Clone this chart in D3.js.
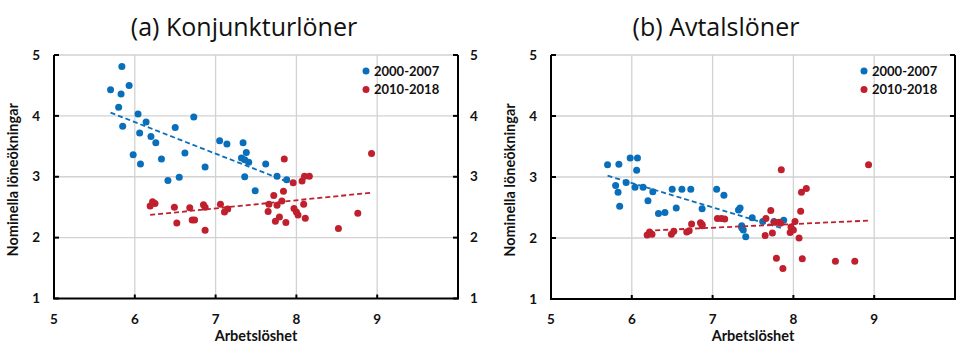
<!DOCTYPE html>
<html>
<head>
<meta charset="utf-8">
<script src="https://cdn.jsdelivr.net/npm/d3@7"></script>
<style>
	body { margin: 0; background: #fff; }
	svg { display: block; font-family: Lato, 'Open Sans', sans-serif; }
	.grid line { stroke: #d2d2d2; stroke-width: 1.3px; }
	.tick-label { font-weight: bold; font-size: 13.5px; fill: #111; }
	.axis-title { font-weight: bold; font-size: 14.5px; fill: #111; }
	.legend text { font-weight: bold; font-size: 13px; fill: #111; }
	.title { font-family: 'Open Sans', sans-serif; font-size: 25px; fill: #111; }
</style>
</head>
<body>
<svg width="968" height="346"></svg>
<script>

// Arbetslöshet (x), shared by both panels
var unemp0007 = [5.70, 5.80, 5.83, 5.84, 5.85, 5.93, 5.98, 6.04, 6.06, 6.07, 6.14, 6.20, 6.26, 6.33, 6.41, 6.50,
	6.55, 6.62, 6.73, 6.87, 7.05, 7.14, 7.32, 7.34, 7.36, 7.36, 7.38, 7.41, 7.49, 7.62, 7.76, 7.88];
var unemp1018 = [6.19, 6.22, 6.25, 6.49, 6.52, 6.68, 6.71, 6.74, 6.85, 6.87, 6.87, 7.06, 7.11, 7.15, 7.65, 7.66,
	7.72, 7.74, 7.76, 7.79, 7.82, 7.84, 7.85, 7.87, 7.96, 7.97, 8.00, 8.02, 8.07, 8.09, 8.10, 8.11, 8.16, 8.52, 8.76, 8.93];

// (a) Konjunkturlöner
var konj0007 = [4.43, 4.14, 4.36, 4.81, 3.83, 4.50, 3.36, 4.03, 3.72, 3.21, 3.90, 3.66, 3.56, 3.29, 2.94, 3.81,
	2.99, 3.39, 3.98, 3.16, 3.59, 3.54, 3.31, 3.56, 3.28, 3.00, 3.40, 3.24, 2.77, 3.21, 3.01, 2.95];
var konj1018 = [2.52, 2.59, 2.56, 2.50, 2.24, 2.49, 2.29, 2.29, 2.54, 2.50, 2.12, 2.55, 2.42, 2.47, 2.43, 2.55,
	2.69, 2.27, 2.53, 2.34, 2.60, 2.76, 3.29, 2.25, 2.90, 2.48, 2.42, 2.37, 2.93, 2.55, 3.01, 2.32, 3.01, 2.15, 2.40, 3.38];

// (b) Avtalslöner
var avtal0007 = [3.20, 2.86, 2.75, 3.21, 2.52, 2.91, 3.31, 2.83, 3.11, 3.31, 2.83, 2.61, 2.76, 2.40, 2.42, 2.80,
	2.49, 2.80, 2.80, 2.48, 2.80, 2.70, 2.46, 2.49, 2.20, 2.17, 2.13, 2.02, 2.33, 2.27, 2.27, 2.29];
var avtal1018 = [2.05, 2.10, 2.06, 2.06, 2.11, 2.10, 2.12, 2.23, 2.25, 2.20, 2.22, 2.32, 2.32, 2.31, 2.04, 2.32,
	2.45, 2.08, 2.26, 1.67, 2.26, 2.24, 3.12, 1.50, 2.09, 2.18, 2.13, 2.27, 2.00, 2.44, 2.75, 1.66, 2.81, 1.62, 1.62, 3.20];

var xTicks = [5, 6, 7, 8, 9];
var yTicks = [1, 2, 3, 4, 5];
var seriesNames = ["2000-2007", "2010-2018"];
var colors = ["#0a6fbb", "#c0202e"];

var svg = d3.select("svg");

// least squares line, returns [[x0,y0],[x1,y1]] over the data range
function trend(xs, ys)
{
	var mx = d3.mean(xs), my = d3.mean(ys);
	var num = d3.sum(xs, function(d, i) { return (d - mx) * (ys[i] - my); });
	var den = d3.sum(xs, function(d) { return (d - mx) * (d - mx); });
	var b = num / den, a = my - b * mx;
	var ext = d3.extent(xs);
	return ext.map(function(x) { return [x, a + b * x]; });
}

function drawPanel(cfg)
{
	var x = d3.scaleLinear().domain([5, 10]).range([cfg.left, cfg.right]);
	var y = d3.scaleLinear().domain([1, 5]).range([cfg.bottom, cfg.top]);
	var g = svg.append("g");

	// grid
	var grid = g.append("g").attr("class", "grid");
	grid.selectAll(".gx").data([6, 7, 8, 9]).join("line")
		.attr("x1", d => x(d)).attr("x2", d => x(d))
		.attr("y1", y(1)).attr("y2", y(5));
	grid.selectAll(".gy").data([2, 3, 4, 5]).join("line")
		.attr("x1", x(5)).attr("x2", x(10))
		.attr("y1", d => y(d)).attr("y2", d => y(d));

	// frame: left, bottom, right in black
	var axisPath = "M" + x(5) + "," + y(5) + "V" + y(1) + "H" + x(10) + "V" + y(5);
	g.append("path").attr("d", axisPath)
		.attr("fill", "none").attr("stroke", "#000").attr("stroke-width", 2);

	// inward ticks
	g.selectAll(".tl").data(yTicks).join("line")
		.attr("x1", x(5)).attr("x2", x(5) + 5)
		.attr("y1", d => y(d)).attr("y2", d => y(d))
		.attr("stroke", "#000").attr("stroke-width", 2);
	g.selectAll(".tr").data(yTicks).join("line")
		.attr("x1", x(10)).attr("x2", x(10) - 5)
		.attr("y1", d => y(d)).attr("y2", d => y(d))
		.attr("stroke", "#000").attr("stroke-width", 2);
	g.selectAll(".tb").data(xTicks.concat([10])).join("line")
		.attr("x1", d => x(d)).attr("x2", d => x(d))
		.attr("y1", y(1)).attr("y2", y(1) - 4)
		.attr("stroke", "#000").attr("stroke-width", 2);

	// tick labels
	g.selectAll(".yl").data(yTicks).join("text")
		.attr("class", "tick-label")
		.attr("x", x(5) - 14).attr("y", d => y(d)).attr("dy", "0.35em")
		.attr("text-anchor", "end").text(d => d);
	if (cfg.rightLabels)
	{
		g.selectAll(".yr").data(yTicks).join("text")
			.attr("class", "tick-label")
			.attr("x", x(10) + 12).attr("y", d => y(d)).attr("dy", "0.35em")
			.attr("text-anchor", "start").text(d => d);
	}
	g.selectAll(".xl").data(xTicks).join("text")
		.attr("class", "tick-label")
		.attr("x", d => x(d)).attr("y", y(1) + 25)
		.attr("text-anchor", "middle").text(d => d);

	// axis titles
	g.append("text").attr("class", "axis-title")
		.attr("x", x(7.5)).attr("y", 341)
		.attr("text-anchor", "middle").text("Arbetslöshet");
	g.append("text").attr("class", "axis-title")
		.attr("transform", "translate(" + (cfg.left - 36) + "," + y(2.95) + ") rotate(-90)")
		.attr("text-anchor", "middle").text("Nominella löneökningar");

	// title
	g.append("text").attr("class", "title")
		.attr("x", cfg.titleX).attr("y", 35.5)
		.attr("text-anchor", "middle")
		.text(cfg.title);

	// points and trend lines
	cfg.series.forEach(function(s, k) {
		var t = trend(s.x, s.y);
		g.append("path")
			.attr("d", d3.line().x(d => x(d[0])).y(d => y(d[1]))(t))
			.attr("fill", "none").attr("stroke", colors[k])
			.attr("stroke-width", 1.8).attr("stroke-dasharray", "5,3");
		g.append("g").selectAll("circle").data(s.x).join("circle")
			.attr("cx", d => x(d))
			.attr("cy", (d, i) => y(s.y[i]))
			.attr("r", 3.5)
			.attr("fill", colors[k]);
	});

	// legend
	var leg = g.append("g").attr("class", "legend");
	seriesNames.forEach(function(name, k) {
		leg.append("circle")
			.attr("cx", cfg.legendX).attr("cy", cfg.legendY + k * 18.5)
			.attr("r", 3.5).attr("fill", colors[k]);
		leg.append("text")
			.attr("x", cfg.legendX + 8).attr("y", cfg.legendY + k * 18.5).attr("dy", "0.36em")
			.text(name);
	});
}

drawPanel({
	left: 54, right: 458, top: 55, bottom: 298.5,
	title: "(a) Konjunkturlöner", titleX: 244,
	legendX: 366, legendY: 71, rightLabels: true,
	series: [{x: unemp0007, y: konj0007}, {x: unemp1018, y: konj1018}]
});

drawPanel({
	left: 551, right: 955, top: 55, bottom: 299,
	title: "(b) Avtalslöner", titleX: 716,
	legendX: 864, legendY: 71, rightLabels: false,
	series: [{x: unemp0007, y: avtal0007}, {x: unemp1018, y: avtal1018}]
});

</script>
</body>
</html>
